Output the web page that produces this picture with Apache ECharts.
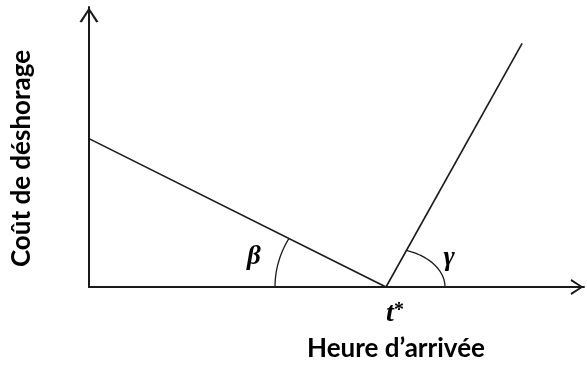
<!DOCTYPE html>
<html>
<head>
<meta charset="utf-8">
<script src="https://cdn.jsdelivr.net/npm/echarts@6/dist/echarts.min.js"></script>
<style>
  html, body { margin: 0; padding: 0; background: #fff; }
  #chart { width: 587px; height: 367px; }
</style>
</head>
<body>
<div id="chart"></div>
<script>
// coût de déshorage : unités arbitraires, t* = heure d'arrivée souhaitée
const tStar = 60
const earlyLine = [[0, 53], [tStar, 0]]     // arrivée en avance (pente beta)
const lateLine = [[tStar, 0], [87.5, 87]]   // arrivée en retard (pente gamma)
const angleNames = ['β', 'γ']
const xName = 'Heure d\u2019arrivée'
const yName = 'Coût de déshorage'

const ink = '#1a1a1a'
// fleche ouverte (chevron) au bout des axes
const chevron = 'path://M0 15 L10 0 L20 15 L17.6 16 L10 3.8 L2.4 16 Z'

// petit arc d'ellipse entre l'axe et une droite, centré sur le sommet
function arcPoints(c, toward, rx, ry, side) {
  const t1 = Math.atan2((toward[1] - c[1]) / ry, (toward[0] - c[0]) / rx)
  const t0 = side < 0 ? -Math.PI : 0
  const pts = []
  for (let i = 0; i <= 40; i++) {
    const t = t0 + (t1 - t0) * i / 40
    pts.push([c[0] + rx * Math.cos(t), c[1] + ry * Math.sin(t)])
  }
  return pts
}

const chart = echarts.init(document.getElementById('chart'))

chart.setOption({
  animation: false,
  grid: { left: 89, right: 1, top: 7, bottom: 74 },
  xAxis: {
    type: 'value',
    min: 0,
    max: 100,
    interval: 20,
    name: xName,
    nameLocation: 'middle',
    nameGap: 49,
    nameTextStyle: {
      fontFamily: 'Lato', fontWeight: 'bold', fontSize: 26, color: '#000',
      padding: [0, 0, 0, 119]
    },
    axisLine: {
      show: true,
      symbol: ['none', chevron],
      symbolSize: [16, 14],
      symbolOffset: [0, -7],
      lineStyle: { color: ink, width: 2 }
    },
    axisTick: { show: false },
    splitLine: { show: false },
    axisLabel: {
      margin: 14,
      padding: [0, 0, 0, 18],
      formatter: v => (v === tStar ? '{t|t}{s|*}' : ''),
      rich: {
        t: { fontFamily: 'Liberation Serif', fontStyle: 'italic', fontWeight: 'bold', fontSize: 28, color: '#000', lineHeight: 26 },
        s: { fontFamily: 'Liberation Serif', fontWeight: 'bold', fontSize: 20, color: '#000', lineHeight: 16, verticalAlign: 'top' }
      }
    }
  },
  yAxis: {
    type: 'value',
    min: 0,
    max: 100,
    name: yName,
    nameLocation: 'middle',
    nameRotate: 90,
    nameGap: 54,
    nameTextStyle: {
      fontFamily: 'Lato', fontWeight: 'bold', fontSize: 26, color: '#000',
      padding: [0, 23, 0, 0]
    },
    axisLine: {
      show: true,
      symbol: ['none', chevron],
      symbolSize: [19, 16],
      symbolOffset: [0, -8],
      lineStyle: { color: ink, width: 2 }
    },
    axisTick: { show: false },
    splitLine: { show: false },
    axisLabel: { show: false }
  },
  series: [
    {
      name: 'avance',
      type: 'line',
      data: earlyLine,
      symbol: 'none',
      silent: true,
      lineStyle: { color: ink, width: 1.6 }
    },
    {
      name: 'retard',
      type: 'line',
      data: lateLine,
      symbol: 'none',
      silent: true,
      lineStyle: { color: ink, width: 1.6 }
    },
    {
      name: 'angles',
      type: 'custom',
      silent: true,
      data: [[tStar, 0]],
      renderItem: (params, api) => {
        const c = api.coord([api.value(0), api.value(1)])
        const early = api.coord(earlyLine[0])
        const late = api.coord(lateLine[1])
        const arcStyle = { stroke: ink, lineWidth: 1.3, fill: 'none' }
        const greek = 'italic bold 27px "Liberation Serif"'
        return {
          type: 'group',
          children: [
            { type: 'polyline', shape: { points: arcPoints(c, early, 111, 100, -1) }, style: arcStyle },
            { type: 'polyline', shape: { points: arcPoints(c, late, 59, 39, 1) }, style: arcStyle },
            { type: 'text', x: c[0] - 132, y: c[1] - 30, style: { text: angleNames[0], font: greek, fill: '#000', align: 'center', verticalAlign: 'middle' } },
            { type: 'text', x: c[0] + 63, y: c[1] - 29, style: { text: angleNames[1], font: greek, fill: '#000', align: 'center', verticalAlign: 'middle' } }
          ]
        }
      }
    }
  ]
})
</script>
</body>
</html>
